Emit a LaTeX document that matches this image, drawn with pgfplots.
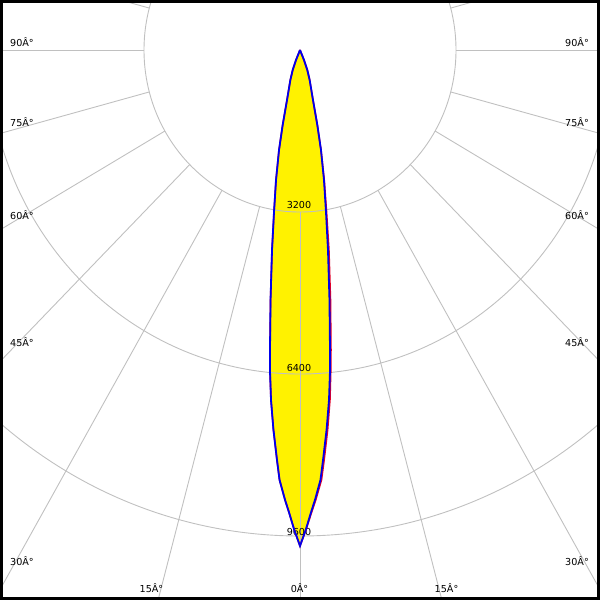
\documentclass[border=0pt]{standalone}
\usepackage{fontspec}
\setmainfont{DejaVu Sans}
\usepackage{pgfplots}
\pgfplotsset{compat=1.18}
\usepackage{pgfplotstable}
\definecolor{gridc}{RGB}{192,192,192}
\definecolor{lblue}{RGB}{0,0,235}
\definecolor{lred}{RGB}{225,0,40}

% luminous intensity (cd) vs angle (deg), C-plane pair shown left (-) / right (+)
\pgfplotstableread{
a I
-25 0
-22.5 214
-20.8 422
-18.5 625
-15.1 1023
-13.5 1523
-12.3 2021
-10.85 2615
-9.46 3244
-8.27 3991
-6.98 4975
-5.93 5957
-5.52 6390
-4.92 6938
-4.15 7525
-3.34 8112
-2.83 8503
-1.98 8893
-1.39 9148
-0.71 9481
0 9796
0.71 9481
1.39 9148
1.98 8893
2.83 8503
3.34 8112
4.15 7525
4.92 6938
5.52 6390
5.93 5957
6.98 4975
8.27 3991
9.46 3244
10.85 2615
12.3 2021
13.5 1523
15.1 1023
18.5 625
20.8 422
22.5 214
25 0
}\blueC

\pgfplotstableread{
a I
-25 0
-22.5 214
-20.8 422
-18.5 625
-15.1 1023
-13.5 1523
-12.3 2021
-10.85 2615
-9.46 3244
-8.27 3991
-6.98 4975
-5.93 5957
-5.52 6390
-4.92 6938
-4.15 7525
-3.34 8112
-2.83 8503
-1.98 8893
-1.39 9148
-0.71 9481
0 9796
0.74 9481
1.46 9148
2.08 8893
2.97 8503
3.50 8112
4.32 7525
5.08 6938
5.66 6390
6.12 5957
7.22 4975
8.55 3991
9.66 3244
10.95 2615
12.3 2021
13.5 1523
15.1 1023
18.5 625
20.8 422
22.5 214
25 0
}\redC

\begin{document}
\begin{tikzpicture}
\begin{axis}[
  scale only axis, width=600pt, height=600pt,
  xmin=-6154, xmax=6154, ymin=-10864, ymax=988,
  hide axis, clip=true]
\addplot[fill=yellow, draw=none] table[x expr={\thisrow{I}*sin(\thisrow{a})}, y expr={-\thisrow{I}*cos(\thisrow{a})}] {\blueC};
% grid circles
\draw[gridc, line width=0.9pt] (axis cs:0,0) ellipse [x radius=3200, y radius=3200];
\draw[gridc, line width=0.9pt] (axis cs:0,0) ellipse [x radius=6400, y radius=6400];
\draw[gridc, line width=0.9pt] (axis cs:0,0) ellipse [x radius=9600, y radius=9600];
\draw[gridc, line width=0.9pt] (axis cs:0,0) ellipse [x radius=12800, y radius=12800];
% spokes
\pgfplotsinvokeforeach{0,15,...,345}{
  \draw[gridc, line width=0.9pt] (axis cs:{3200*sin(#1)},{-3200*cos(#1)}) -- (axis cs:{30000*sin(#1)},{-30000*cos(#1)});
}
% labels
\tikzset{lbl/.style={font=\fontsize{9.6}{11}\selectfont, inner sep=0pt, text=black}}
\node[lbl, anchor=base west] at (rel axis cs:0.0167,0.9233) {90Â°};
\node[lbl, anchor=base west] at (rel axis cs:0.0167,0.79) {75Â°};
\node[lbl, anchor=base west] at (rel axis cs:0.0167,0.635) {60Â°};
\node[lbl, anchor=base west] at (rel axis cs:0.0167,0.4233) {45Â°};
\node[lbl, anchor=base west] at (rel axis cs:0.0167,0.0583) {30Â°};
\node[lbl, anchor=base east] at (rel axis cs:0.9817,0.9233) {90Â°};
\node[lbl, anchor=base east] at (rel axis cs:0.9817,0.79) {75Â°};
\node[lbl, anchor=base east] at (rel axis cs:0.9817,0.635) {60Â°};
\node[lbl, anchor=base east] at (rel axis cs:0.9817,0.4233) {45Â°};
\node[lbl, anchor=base east] at (rel axis cs:0.9817,0.0583) {30Â°};
\node[lbl, anchor=base] at (rel axis cs:0.2525,0.0117) {15Â°};
\node[lbl, anchor=base] at (rel axis cs:0.7442,0.0117) {15Â°};
\node[lbl, anchor=base] at (rel axis cs:0.4992,0.0133) {0Â°};
\node[lbl, anchor=base] at (rel axis cs:0.4983,0.6517) {3200};
\node[lbl, anchor=base] at (rel axis cs:0.4983,0.38) {6400};
\node[lbl, anchor=base] at (rel axis cs:0.4983,0.1083) {9600};
% curves
\addplot[lred, line width=1.6pt] table[x expr={\thisrow{I}*sin(\thisrow{a})}, y expr={-\thisrow{I}*cos(\thisrow{a})}] {\redC};
\addplot[lblue, line width=1.8pt] table[x expr={\thisrow{I}*sin(\thisrow{a})}, y expr={-\thisrow{I}*cos(\thisrow{a})}] {\blueC};
% frame
\draw[black, line width=3pt] (rel axis cs:0.0025,0.0025) rectangle (rel axis cs:0.9975,0.9975);
\end{axis}
\pgfresetboundingbox
\path (current axis.south west) rectangle (current axis.north east);
\end{tikzpicture}
\end{document}
